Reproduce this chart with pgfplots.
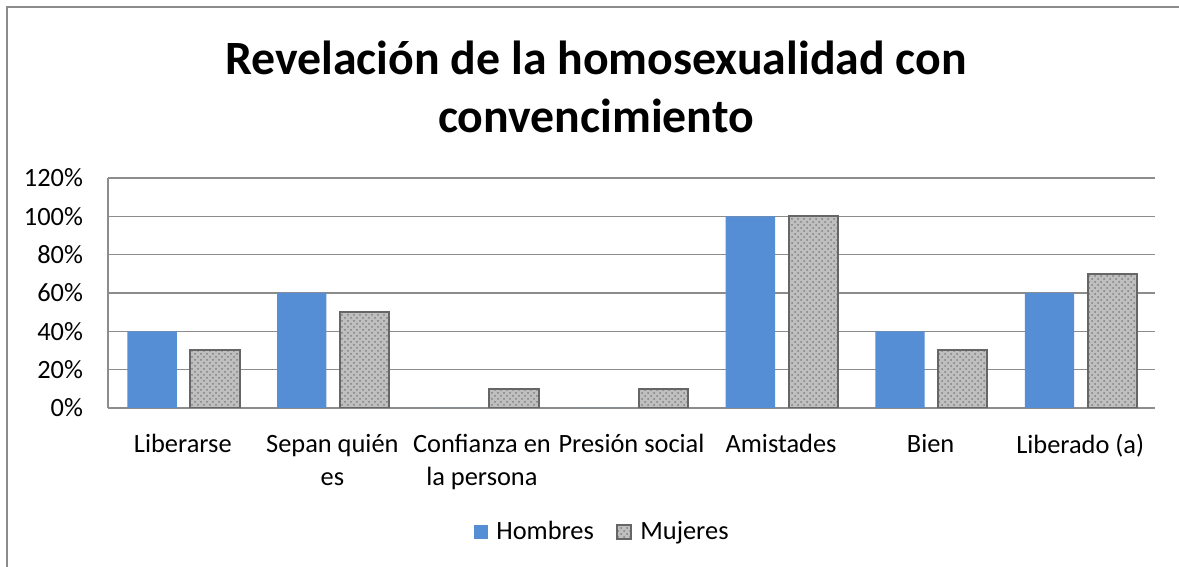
\documentclass[border=0pt]{standalone}
\usepackage{pgfplots}
\pgfplotsset{compat=1.18}
\usepackage{fontspec}
\setmainfont{Carlito}
\usetikzlibrary{patterns}
\definecolor{hombres}{HTML}{558ED5}
\definecolor{gridc}{HTML}{8C8C8C}

\begin{document}
\begin{tikzpicture}
% page = 1179 x 567 px, 1 px = 0.5pt
\useasboundingbox (0pt,0pt) rectangle (589.5pt,283.5pt);
\draw[gridc, line width=1.2pt] (3.5pt,0pt) -- (3.5pt,280pt) -- (589.5pt,280pt);
\node[font=\fontsize{23.9}{29}\selectfont\bfseries, align=center] at (298pt,240pt)
  {Revelación de la homosexualidad con\\convencimiento};
\begin{axis}[
  at={(54pt,79.5pt)}, anchor=south west,
  scale only axis,
  width=523.5pt, height=115pt,
  xmin=-0.5, xmax=6.5,
  ymin=0, ymax=120,
  ytick={0,20,...,120},
  yticklabel={\pgfmathprintnumber{\tick}\%},
  xtick={0,...,6},
  xticklabels={Liberarse, Sepan quién\\es, Confianza en\\la persona, Presión social, Amistades, Bien, Liberado (a)},
  xticklabel style={align=center, yshift=-9.5pt},
  yticklabel style={xshift=-9pt},
  major tick length=0pt,
  ymajorgrids, grid style={gridc, line width=0.8pt},
  axis x line*=bottom, axis y line*=left,
  axis line style={gridc, line width=0.8pt},
  tick label style={font=\fontsize{13.2}{16.5}\selectfont},
  /pgf/number format/assume math mode=true,
  bar width=0.33,
  legend style={at={(0.473,-0.539)}, anchor=center, draw=none,
    font=\fontsize{13.2}{15}\selectfont, legend columns=2,
    /tikz/every odd column/.append style={column sep=2pt},
    /tikz/every even column/.append style={column sep=9pt}},
  legend image code/.code={\fill[#1] (0pt,-3.6pt) rectangle (7.2pt,3.6pt);},
]
\addplot[ybar, bar shift=-0.205, fill=hombres, draw=none]
  coordinates {(0,40)(1,60)(2,0)(3,0)(4,100)(5,40)(6,60)};
\addplot[ybar, bar shift=0.215, fill=gray!50, draw=black!60, line width=1pt,
  postaction={pattern=crosshatch dots, pattern color=black!50}]
  coordinates {(0,30)(1,50)(2,10)(3,10)(4,100)(5,30)(6,70)};
\legend{Hombres, Mujeres}
\end{axis}
\end{tikzpicture}
\end{document}
